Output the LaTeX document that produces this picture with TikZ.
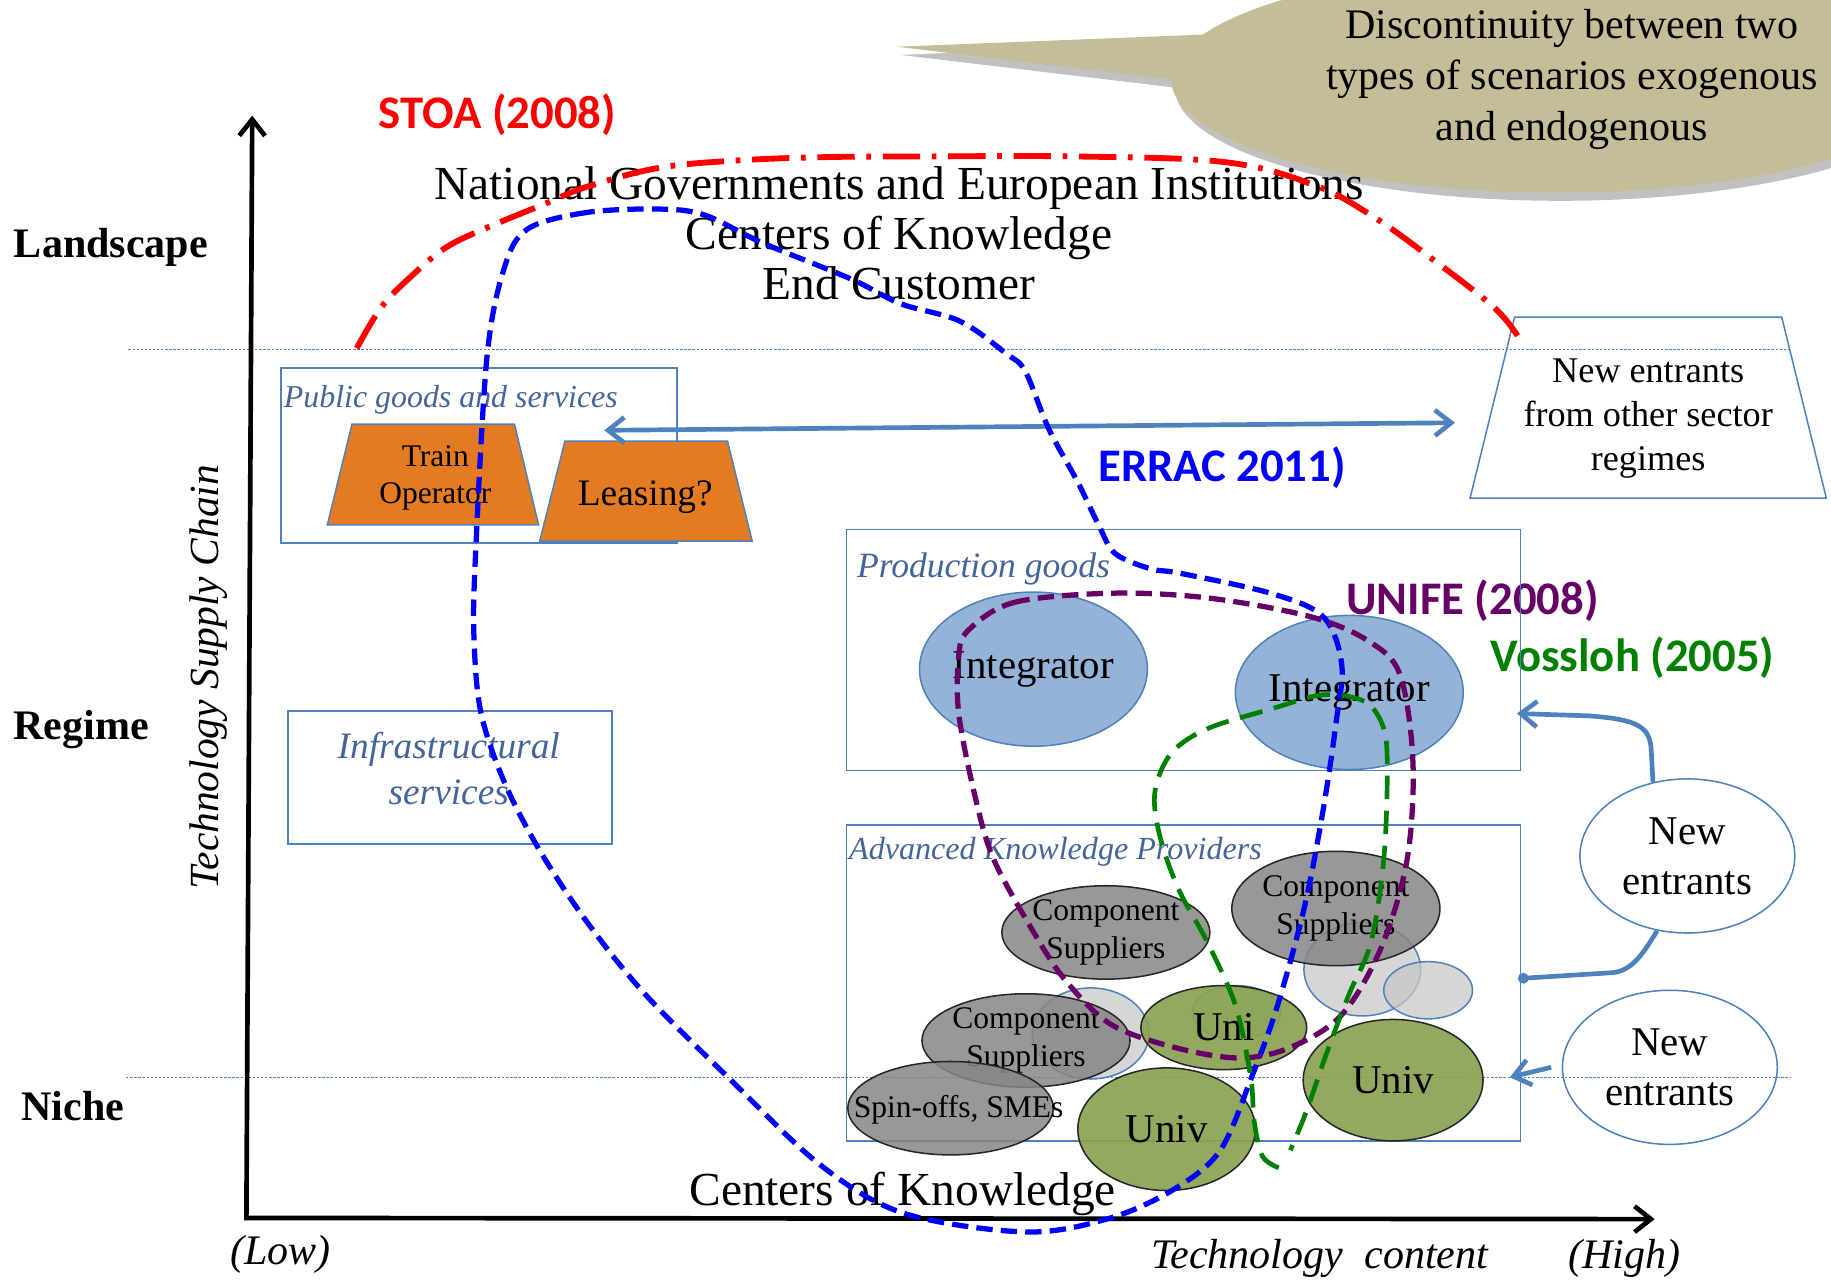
\documentclass[tikz,border=0pt]{standalone}
\usepackage{fontspec}
\setmainfont{Liberation Serif}
\newfontfamily\calib{Carlito}
\usetikzlibrary{arrows.meta,shapes.geometric,shadows,calc}
\definecolor{boxblue}{HTML}{4F81BD}
\definecolor{lbltxt}{HTML}{44649A}
\definecolor{orng}{HTML}{E47B22}
\definecolor{intfill}{HTML}{95B3D7}
\definecolor{grayfill}{HTML}{868686}
\definecolor{lightfill}{HTML}{C8C8C8}
\definecolor{olivefill}{HTML}{8AA253}
\definecolor{tanfill}{HTML}{C4BD97}
\definecolor{erraccol}{HTML}{0000FF}
\definecolor{unifecol}{HTML}{660066}
\definecolor{vosscol}{HTML}{008000}
\definecolor{stoacol}{HTML}{FF0000}
\newcommand\fsz[2]{\fontsize{#1}{#2}\selectfont}
\tikzset{mybarb/.tip={Straight Barb[length=14pt,width=22pt]}}
\begin{document}
\begin{tikzpicture}[x=1pt,y=-1pt,
  boxnode/.style={draw=boxblue, line width=1.3pt, inner sep=0pt, anchor=north west},
  ell/.style={ellipse, inner sep=0pt, line width=1.3pt, align=center},
  intell/.style={ell, fill=intfill, draw=boxblue, font=\fsz{35}{40}},
  grayell/.style={ell, fill=grayfill, fill opacity=0.85, text opacity=1, draw=black!85, font=\fsz{27}{32}},
  lightell/.style={ell, fill=lightfill, fill opacity=0.75, draw=boxblue},
  greenell/.style={ell, fill=olivefill, fill opacity=0.92, text opacity=1, draw=black!85, font=\fsz{35}{40}},
  neell/.style={ell, fill=white, draw=boxblue, font=\fsz{35}{43}},
  grouptitle/.style={font=\calib\bfseries\fsz{40}{42}},
  italbl/.style={text=lbltxt, inner sep=0pt},
  conn/.style={boxblue, line width=4pt},
  axis/.style={black, line width=4pt},
  levellbl/.style={font=\bfseries\fsz{36}{40}},
  dotline/.style={boxblue, line width=0.9pt, dash pattern=on 2pt off 1.5pt},
  bigdash/.style={line width=4.5pt, dash pattern=on 14pt off 7pt},
]
\useasboundingbox (0,0) rectangle (1568,1096);

% ---------- callout ----------
\fill[tanfill, drop shadow={shadow xshift=3pt, shadow yshift=-7pt, opacity=0.35, fill=black!70}]
  (768,40) -- plot[domain=203.3:540, samples=90] ({1333+330*cos(\x)},{68+97*sin(\x)}) -- cycle;
\node[align=center, font=\fsz{36}{43.5}] (disc) at (1346,68)
  {Discontinuity between two\\types of scenarios exogenous\\and endogenous};

% ---------- level labels ----------
\node[levellbl] (landscape) at (95,212) {Landscape};
\node[levellbl] (regime) at (69.5,624.6) {Regime};
\node[levellbl] (niche) at (62.5,947.6) {Niche};
\node[rotate=90, font=\itshape\fsz{35.5}{40}] (tsc) at (178.4,580) {Technology Supply Chain};

% ---------- landscape text ----------
\node[align=center, font=\fsz{40.6}{43}] (landtxt) at (770,200)
  {National Governments and European Institutions\\Centers of Knowledge\\End Customer};
\node[grouptitle, text=stoacol] (stoa) at (426,98) {STOA (2008)};
\node[grouptitle, text=erraccol] (errac) at (1046.5,400.6) {ERRAC 2011)};
\node[grouptitle, text=unifecol] (unife) at (1261,514) {UNIFE (2008)};
\node[grouptitle, text=vosscol] (voss) at (1398,563.6) {Vossloh (2005)};

% ---------- public goods ----------
\node[boxnode, minimum width=339.2pt, minimum height=149.8pt] (pubbox) at (240.1,314.4) {};
\node[italbl, anchor=west, font=\itshape\fsz{27.3}{30}] (pubtxt) at (243,342.5) {Public goods and services};
\filldraw[fill=orng, draw=boxblue, line width=1.3pt]
  (301.4,363.3) -- (440.6,363.3) -- (461.2,449.5) -- (280.3,449.5) -- cycle;
\node[align=center, font=\fsz{27}{32}] (train) at (372.8,409) {Train\\Operator};
\filldraw[fill=orng, draw=boxblue, line width=1.3pt]
  (483.8,377.7) -- (623,377.7) -- (644.1,463.3) -- (462.2,463.3) -- cycle;
\node[font=\fsz{32}{36}] (leasing) at (552.6,426) {Leasing?};

% ---------- infrastructural ----------
\node[boxnode, minimum width=277.3pt, minimum height=113.8pt] (infbox) at (246.2,608.4) {};
\node[italbl, align=center, font=\itshape\fsz{32}{39.5}] (inftxt) at (384.3,658) {Infrastructural\\services};

% ---------- new entrants from other sectors ----------
\filldraw[fill=white, draw=boxblue, line width=1.3pt]
  (1297,271.6) -- (1525.8,271.6) -- (1564,426.6) -- (1258.9,426.6) -- cycle;
\node[align=center, font=\fsz{31}{38}] (nefrom) at (1411.4,358.5) {New entrants\\from other sector\\regimes};

% ---------- production goods ----------
\node[boxnode, minimum width=577pt, minimum height=206.3pt] (prodbox) at (724.3,452.8) {};
\node[italbl, anchor=west, font=\itshape\fsz{30.5}{34}] (prodtxt) at (733.7,486.8) {Production goods};
\node[intell, minimum width=184pt, minimum height=132pt] (int1) at (885,573) {Integrator};
\node[intell, minimum width=184pt, minimum height=132pt] (int2) at (1155.5,593) {Integrator};

% ---------- advanced knowledge providers ----------
\node[boxnode, minimum width=577pt, minimum height=270.6pt] (advbox) at (724.3,706) {};
\node[italbl, anchor=west, font=\itshape\fsz{27.5}{30}] (advtxt) at (727,729.6) {Advanced Knowledge Providers};

% ---------- new entrants ellipses ----------
\node[neell, minimum width=184pt, minimum height=132pt] (ne1) at (1445,733) {New\\entrants};
\node[neell, minimum width=184pt, minimum height=132pt] (ne2) at (1430,914) {New\\entrants};

% ---------- dotted level lines ----------
\coordinate (dla) at (110,299.5); \coordinate (dlb) at (1533,299.5);
\coordinate (dna) at (108,922.7); \coordinate (dnb) at (1533,922.7);
\draw[dotline] (dla) -- (dlb);
\draw[dotline] (dna) -- (dnb);

% ---------- ellipses in advanced box ----------
\node[lightell, minimum width=100pt, minimum height=80pt] (lc3) at (1166.6,830) {};
\node[lightell, minimum width=76pt, minimum height=49pt] (lc4) at (1223,848) {};
\node[lightell, minimum width=100pt, minimum height=78pt] (lc1) at (934,885) {};
\node[lightell, minimum width=76pt, minimum height=46pt] (lc2) at (1059,867) {};
\node[grayell, minimum width=172pt, minimum height=80pt] (cs1) at (947,798.5) {Component\\Suppliers};
\node[grayell, minimum width=174pt, minimum height=98pt] (cs2) at (1144,778) {Component\\Suppliers};
\node[grayell, minimum width=174pt, minimum height=80pt] (cs3) at (878.6,891) {Component\\Suppliers};
\node[grayell, minimum width=176pt, minimum height=80pt] (spin) at (814,949) {};
\node[font=\fsz{27}{32}] (spintxt) at (821,950) {Spin-offs, SMEs};
\node[greenell, minimum width=142pt, minimum height=72pt] (uni) at (1048,880) {Uni};
\node[greenell, minimum width=154pt, minimum height=104pt] (univ1) at (1193,925) {Univ};
\node[greenell, minimum width=152pt, minimum height=105pt] (univ2) at (999,967) {Univ};

% ---------- axes ----------
\coordinate (origin) at (211,1043);
\coordinate (ytop) at (216,99);
\coordinate (xend) at (1417,1044);
\draw[axis, -{mybarb}] (origin) -- (ytop);
\draw[axis, -{mybarb}] ([xshift=-2pt]origin) -- (xend);
\node[font=\itshape\fsz{36}{40}] (low) at (240,1074) {(Low)};
\node[font=\itshape\fsz{36}{40}] (techc) at (1130,1078) {Technology\ \ content};
\node[font=\itshape\fsz{36}{40}] (high) at (1391,1078) {(High)};
\node[font=\fsz{40.6}{43}] (cok) at (773,1022) {Centers of Knowledge};

% ---------- connectors ----------
\coordinate (dal) at (517.5,368.5);
\coordinate (dar) at (1246,362);
\draw[conn, {mybarb}-{mybarb}] (dal) -- (dar);
\coordinate (pgin) at (1299,611);
\draw[conn, -{mybarb}] (ne1.115) -- (1414,642) .. controls (1413,622) and (1402,616) .. (1360,613) -- (pgin);
\coordinate (akin) at (1300,838);
\draw[conn, -{Circle[length=9pt]}] (ne1.248) .. controls (1408,815) and (1398,832) .. (1380,833) -- (akin);
\coordinate (ne2in) at (1293,922.5);
\draw[conn, -{mybarb}] ([xshift=-9pt]ne2.west) -- (ne2in);

% ---------- scenario boundaries ----------
\draw[stoacol, line width=5pt, dash pattern=on 32pt off 10pt on 4pt off 10pt]
  plot[smooth, tension=0.6] coordinates {(305.5,298.2) (326.6,263) (351.7,237) (381.8,212) (417,195) (467.2,174.3) (502.4,160) (562.7,144) (628,137.6) (703.4,134.6) (787.8,134) (923.3,134) (1050.4,139) (1126.7,159) (1177.5,186.5) (1228.4,223.2) (1279.2,263) (1299.5,287.5)};
\draw[erraccol, bigdash]
  plot[smooth cycle, tension=0.55] coordinates {(563,179) (502,182) (452,196) (432,229) (417,306) (407,480) (406,549) (412,611) (432,670) (462,728) (503,790) (553,852) (628,927) (703,998) (774,1039) (879,1055) (951,1043) (1006,1018) (1045,985) (1072,922) (1094,861) (1117,777) (1133,694) (1144,620) (1149,569) (1133,528) (1088,508) (1011,491) (985,487) (955,474) (941,450) (923,413) (898,367) (878,318) (862,303) (822,275) (771,260) (729,239) (653,208) (603,184)};
\draw[unifecol, bigdash]
  plot[smooth cycle, tension=0.55] coordinates {(829,540) (868,516) (951,508) (1034,512) (1122,528) (1172,549) (1199,578) (1210,653) (1205,736) (1183,811) (1149,869) (1105,897) (1061,906) (1006,897) (951,877) (912,839) (885,798) (851,736) (835,682) (821,611) (821,562)};
\draw[vosscol, line width=4pt, dash pattern=on 20pt off 10pt]
  plot[smooth, tension=0.55] coordinates {(1095,1000) (1081,990) (1074,960) (1071,922) (1058,861) (1034,807) (1009,761) (993,715) (989,678) (1003,645) (1034,624) (1089,607) (1133,595) (1169,601) (1185,624) (1188,661) (1185,736) (1174,807) (1155,852) (1136,902) (1119,951) (1105,985)};
\end{tikzpicture}
\end{document}
